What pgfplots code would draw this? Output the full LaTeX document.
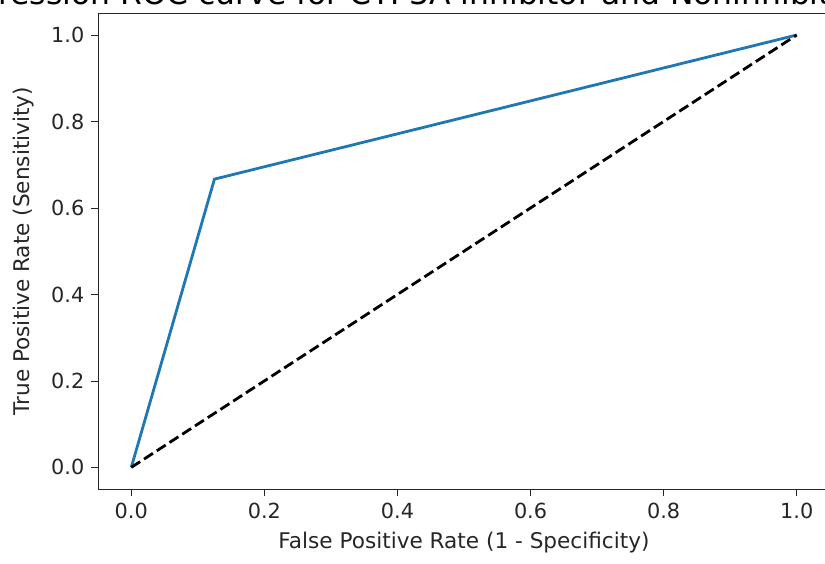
\documentclass[border=0pt]{standalone}
\usepackage{fontspec}
\setmainfont{DejaVu Sans}
\usepackage{pgfplots}
\pgfplotsset{compat=1.18}
\usetikzlibrary{calc}
\definecolor{mplblue}{HTML}{1F77B4}
\definecolor{spine}{HTML}{262626}

\begin{document}
\begin{tikzpicture}
  \begin{axis}[
      scale only axis,
      width=366pt, height=237.8pt,
      xmin=-0.05, xmax=1.05, ymin=-0.05, ymax=1.05,
      xtick={0,0.2,0.4,0.6,0.8,1.0},
      ytick={0,0.2,0.4,0.6,0.8,1.0},
      tick pos=left, tick align=outside,
      major tick length=3.3pt,
      tick style={spine, line width=0.4pt},
      axis line style={spine, line width=0.4pt},
      /pgf/number format/assume math mode=true,
      /pgf/number format/fixed, /pgf/number format/fixed zerofill,
      /pgf/number format/precision=1,
      tick label style={font=\fontsize{10.4}{12}\selectfont, text=spine},
      label style={font=\fontsize{10.8}{13}\selectfont, text=spine},
      ylabel style={yshift=2pt},
      xlabel={False Positive Rate (1 - Specificity)},
      ylabel={True Positive Rate (Sensitivity)},
      title={Logistic Regression ROC curve for CYP3A inhibitor and Noninhibitor},
      title style={font=\fontsize{15.7}{18}\selectfont, text=black,
        at={(rel axis cs:0,1)}, anchor=base west, xshift=-148pt, yshift=-1.5pt},
    ]
    \addplot[mplblue, line width=1.4pt] coordinates {
      (0,0) (0.125,0.6667) (1,1)
    };
    \addplot[black, line width=1.4pt, dash pattern=on 5.3pt off 2.3pt] coordinates {
      (0,0) (1,1)
    };
  \end{axis}
  \pgfresetboundingbox
  \useasboundingbox ($(current axis.south west)+(-49pt,-37pt)$)
    rectangle ($(current axis.north east)+(-2.5pt,6.7pt)$);
\end{tikzpicture}
\end{document}
